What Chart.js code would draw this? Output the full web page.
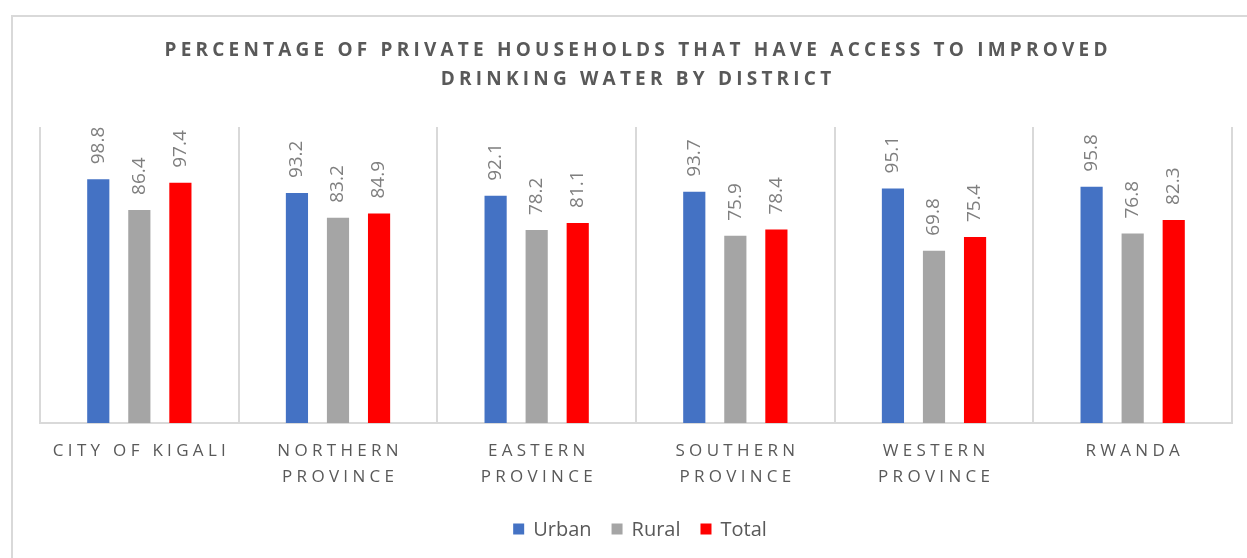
<!DOCTYPE html>
<html>
<head>
<meta charset="utf-8">
<script src="https://cdn.jsdelivr.net/npm/chart.js@4.4.1/dist/chart.umd.min.js"></script>
<style>
  html, body { margin: 0; padding: 0; background: #ffffff; }
  #wrap { position: relative; width: 1247px; height: 558px; }
  canvas { display: block; }
</style>
</head>
<body>
<div id="wrap"><canvas id="c" width="1247" height="558"></canvas></div>
<script>
// ---- data ----
const titleLines = ['PERCENTAGE OF PRIVATE HOUSEHOLDS THAT HAVE ACCESS TO IMPROVED', 'DRINKING WATER BY DISTRICT'];
const categories = [['CITY OF KIGALI'], ['NORTHERN', 'PROVINCE'], ['EASTERN', 'PROVINCE'], ['SOUTHERN', 'PROVINCE'], ['WESTERN', 'PROVINCE'], ['RWANDA']];
const seriesNames = ['Urban', 'Rural', 'Total'];
const urban = [98.8, 93.2, 92.1, 93.7, 95.1, 95.8];
const rural = [86.4, 83.2, 78.2, 75.9, 69.8, 76.8];
const total = [97.4, 84.9, 81.1, 78.4, 75.4, 82.3];
const seriesColors = ['#4472C4', '#A5A5A5', '#FF0000'];

const FONT = '"Open Sans", "Liberation Sans", sans-serif';

function drawSpaced(ctx, text, cx, cy, spacing) {
  const chars = Array.from(text);
  let w = 0;
  const ws = chars.map(ch => ctx.measureText(ch).width);
  ws.forEach(v => w += v);
  w += spacing * (chars.length - 1);
  let x = cx - w / 2;
  ctx.textAlign = 'left';
  ctx.textBaseline = 'middle';
  chars.forEach((ch, i) => { ctx.fillText(ch, x, cy); x += ws[i] + spacing; });
}

const decorPlugin = {
  id: 'decor',
  beforeDraw(chart) {
    const ctx = chart.ctx;
    ctx.save();
    ctx.fillStyle = '#ffffff';
    ctx.fillRect(0, 0, chart.width, chart.height);
    ctx.strokeStyle = '#D9D9D9';
    ctx.lineWidth = 2;
    ctx.strokeRect(12, 16, 1400, 700);
    ctx.restore();
  },
  afterDraw(chart) {
    const ctx = chart.ctx;
    const xs = chart.scales.x;
    ctx.save();
    // title
    ctx.fillStyle = '#595959';
    ctx.font = 'bold 19px ' + FONT;
    drawSpaced(ctx, titleLines[0], 636, 51, 4.2);
    drawSpaced(ctx, titleLines[1], 636, 80, 4.2);
    // category labels
    ctx.font = '17px ' + FONT;
    ctx.fillStyle = '#595959';
    categories.forEach((lines, i) => {
      const cx = xs.getPixelForValue(i);
      lines.forEach((ln, j) => drawSpaced(ctx, ln, cx, 451 + j * 26, 4.3));
    });
    // data labels
    ctx.font = '19px ' + FONT;
    ctx.fillStyle = '#7F7F7F';
    chart.data.datasets.forEach((ds, di) => {
      const meta = chart.getDatasetMeta(di);
      meta.data.forEach((bar, i) => {
        ctx.save();
        ctx.translate(bar.x, bar.y - 15);
        ctx.rotate(-Math.PI / 2);
        ctx.textAlign = 'left';
        ctx.textBaseline = 'middle';
        ctx.fillText(ds.data[i].toFixed(1), 0, 0);
        ctx.restore();
      });
    });
    // legend
    ctx.font = '20px ' + FONT;
    const box = 11, gapBox = 9, gapItem = 20;
    const widths = chart.data.datasets.map(ds => ctx.measureText(ds.label).width);
    let totalW = 0;
    widths.forEach(w => totalW += box + gapBox + w);
    totalW += gapItem * (widths.length - 1);
    let x = 640 - totalW / 2;
    const ly = 529;
    chart.data.datasets.forEach((ds, di) => {
      ctx.fillStyle = ds.backgroundColor;
      ctx.fillRect(x, ly - box / 2, box, box);
      x += box + gapBox;
      ctx.fillStyle = '#595959';
      ctx.textAlign = 'left';
      ctx.textBaseline = 'middle';
      ctx.fillText(ds.label, x, ly + 1);
      x += widths[di] + gapItem;
    });
    ctx.restore();
  }
};

new Chart(document.getElementById('c'), {
  type: 'bar',
  data: {
    labels: categories,
    datasets: [
      { label: seriesNames[0], data: urban, backgroundColor: seriesColors[0] },
      { label: seriesNames[1], data: rural, backgroundColor: seriesColors[1] },
      { label: seriesNames[2], data: total, backgroundColor: seriesColors[2] }
    ]
  },
  options: {
    responsive: false,
    animation: false,
    devicePixelRatio: 1,
    layout: { padding: { left: 40, right: 15, top: 127, bottom: 135 } },
    datasets: { bar: { categoryPercentage: 0.62, barPercentage: 0.54 } },
    plugins: { legend: { display: false }, title: { display: false }, tooltip: { enabled: false } },
    scales: {
      x: {
        offset: true,
        ticks: { display: false },
        grid: { display: true, offset: true, color: '#D9D9D9', lineWidth: 2, drawTicks: false },
        border: { display: true, color: '#D9D9D9', width: 2 }
      },
      y: {
        display: false,
        min: 0,
        max: 120
      }
    }
  },
  plugins: [decorPlugin]
});
</script>
</body>
</html>
